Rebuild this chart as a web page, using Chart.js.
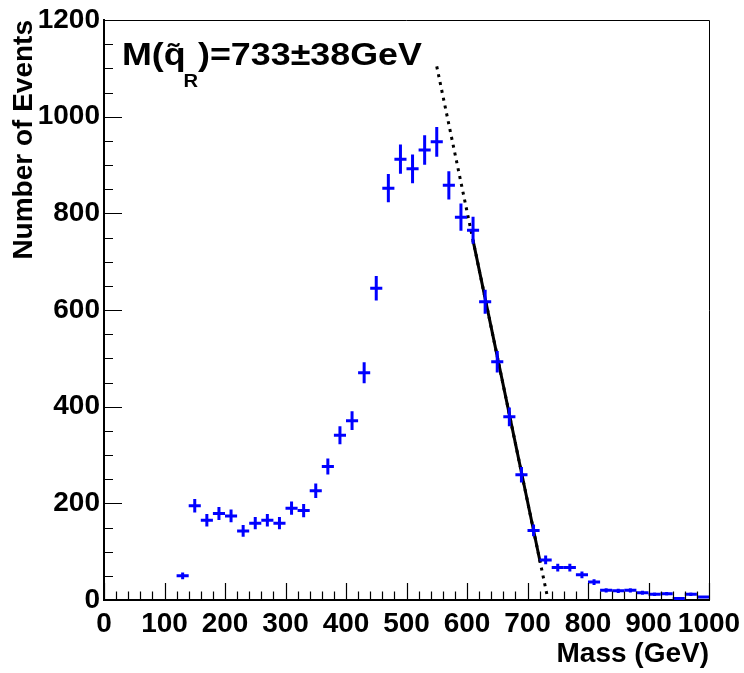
<!DOCTYPE html>
<html>
<head>
<meta charset="utf-8">
<script src="https://cdn.jsdelivr.net/npm/chart.js@4.4.0/dist/chart.umd.min.js"></script>
<style>
  html, body { margin: 0; padding: 0; background: #fff; }
  #wrap { width: 744px; height: 673px; position: relative; }
</style>
</head>
<body>
<div id="wrap"><canvas id="massPlot"></canvas></div>
<script>
// histogram: bin centres (GeV), counts and statistical errors
const massBins = [130, 150, 170, 190, 210, 230, 250, 270, 290, 310,
  330, 350, 370, 390, 410, 430, 450, 470, 490, 510,
  530, 550, 570, 590, 610, 630, 650, 670, 690, 710,
  730, 750, 770, 790, 810, 830, 850, 870, 890, 910,
  930, 950, 970, 990];
const counts = [50, 195, 165, 179, 174, 143, 159, 165, 159, 190,
  185, 226, 276, 341, 371, 470, 645, 852, 912, 892,
  931, 948, 858, 792, 765, 617, 493, 379, 259, 144,
  83, 67, 67, 52, 37, 20, 19, 20, 15, 12,
  13, 3, 12, 6];
const countErrors = [7.1, 14, 12.8, 13.4, 13.2, 12, 12.6, 12.8, 12.6, 13.8,
  13.6, 15, 16.6, 18.5, 19.3, 21.7, 25.4, 29.2, 30.2, 29.9,
  30.5, 30.8, 29.3, 28.1, 27.7, 24.8, 22.2, 19.5, 16.1, 12,
  9.1, 8.2, 8.2, 7.2, 6.1, 4.5, 4.4, 4.5, 3.9, 3.5,
  3.6, 1.7, 3.5, 2.4];
const binHalfWidth = 10;

// linear fit of the falling edge, and its extrapolation
const fitX = [610, 721];
const fitY = [744, 78];
const extX = [550, 734];
const extY = [1104, 0];

const xTicks = [0, 100, 200, 300, 400, 500, 600, 700, 800, 900, 1000];
const yTicks = [0, 200, 400, 600, 800, 1000, 1200];

const FONT = "'Liberation Sans', Arial, Helvetica, sans-serif";
const BLUE = '#0000ff';

// ROOT style error crosses
const errorCrosses = {
  id: 'errorCrosses',
  afterDatasetsDraw(chart) {
    const { ctx, scales: { x, y } } = chart;
    ctx.save();
    ctx.strokeStyle = BLUE;
    ctx.lineWidth = 3;
    ctx.lineCap = 'butt';
    massBins.forEach((m, i) => {
      const px = x.getPixelForValue(m);
      const py = y.getPixelForValue(counts[i]);
      ctx.beginPath();
      ctx.moveTo(x.getPixelForValue(m - binHalfWidth), py);
      ctx.lineTo(x.getPixelForValue(m + binHalfWidth), py);
      ctx.moveTo(px, y.getPixelForValue(counts[i] - countErrors[i]));
      ctx.lineTo(px, y.getPixelForValue(counts[i] + countErrors[i]));
      ctx.stroke();
    });
    ctx.restore();
  }
};

// inner ticks + frame + label text
const rootFrame = {
  id: 'rootFrame',
  afterDraw(chart) {
    const { ctx, chartArea: a, scales: { x, y } } = chart;
    ctx.save();
    ctx.strokeStyle = '#000';
    ctx.lineWidth = 1.2;
    ctx.beginPath();
    for (let v = 0; v <= 1000; v += 20) {
      const px = Math.round(x.getPixelForValue(v)) + 0.5;
      const len = v % 100 === 0 ? 17 : 8.5;
      ctx.moveTo(px, a.bottom);
      ctx.lineTo(px, a.bottom - len);
    }
    for (let v = 0; v <= 1200; v += 50) {
      const py = Math.round(y.getPixelForValue(v)) + 0.5;
      const len = v % 200 === 0 ? 18 : 9;
      ctx.moveTo(a.left, py);
      ctx.lineTo(a.left + len, py);
    }
    ctx.stroke();
    // top and right frame lines
    ctx.lineWidth = 1;
    ctx.beginPath();
    ctx.moveTo(a.left, a.top + 0.5);
    ctx.lineTo(a.right + 0.5, a.top + 0.5);
    ctx.lineTo(a.right + 0.5, a.bottom);
    ctx.stroke();

    // M(q~_R)=733±38GeV
    ctx.fillStyle = '#000';
    ctx.textBaseline = 'alphabetic';
    ctx.textAlign = 'left';
    ctx.translate(a.left + 18, a.top + 45);
    ctx.scale(1.12, 1);
    ctx.font = 'bold 32px ' + FONT;
    ctx.fillText('M(q\u0303', 0, 0);
    const w1 = ctx.measureText('M(q').width;
    ctx.font = 'bold 18px ' + FONT;
    ctx.fillText('R', w1 - 2, 22);
    const w2 = ctx.measureText('R').width;
    ctx.font = 'bold 32px ' + FONT;
    ctx.fillText(')=733\u00b138GeV', w1 + w2 - 2, 0);
    ctx.restore();
  }
};

new Chart(document.getElementById('massPlot'), {
  type: 'scatter',
  data: {
    datasets: [
      {
        type: 'line',
        data: extX.map((v, i) => ({ x: v, y: extY[i] })),
        borderColor: '#000',
        borderWidth: 3,
        borderDash: [3, 5],
        pointRadius: 0,
        fill: false
      },
      {
        type: 'line',
        data: fitX.map((v, i) => ({ x: v, y: fitY[i] })),
        borderColor: '#000',
        borderWidth: 3,
        pointRadius: 0,
        fill: false
      }
    ]
  },
  options: {
    responsive: true,
    maintainAspectRatio: false,
    animation: false,
    layout: { padding: { top: 20, right: 35, left: 0, bottom: 0 } },
    plugins: {
      legend: { display: false },
      tooltip: { enabled: false }
    },
    scales: {
      x: {
        type: 'linear',
        min: 0,
        max: 1000,
        afterFit(s) { s.height = 73; s.paddingLeft = 0; s.paddingRight = 0; },
        afterBuildTicks(s) { s.ticks = xTicks.map(v => ({ value: v })); },
        grid: { display: false, drawTicks: false },
        border: { display: true, color: '#000', width: 2 },
        ticks: {
          padding: 7,
          maxRotation: 0,
          autoSkip: false,
          color: '#000',
          callback: v => String(v),
          font: { family: FONT, size: 28, weight: 'bold' }
        },
        title: {
          display: true,
          text: 'Mass (GeV)',
          align: 'end',
          color: '#000',
          padding: { top: 0, bottom: 2 },
          font: { family: FONT, size: 28, weight: 'bold' }
        }
      },
      y: {
        type: 'linear',
        min: 0,
        max: 1200,
        afterFit(s) { s.width = 104; s.paddingTop = 0; s.paddingBottom = 0; },
        afterBuildTicks(s) { s.ticks = yTicks.map(v => ({ value: v })); },
        grid: { display: false, drawTicks: false },
        border: { display: true, color: '#000', width: 2 },
        ticks: {
          padding: 4,
          autoSkip: false,
          color: '#000',
          callback: v => String(v),
          font: { family: FONT, size: 28, weight: 'bold' }
        },
        title: {
          display: true,
          text: 'Number of Events',
          align: 'end',
          color: '#000',
          padding: { top: 7, bottom: 0 },
          font: { family: FONT, size: 28, weight: 'bold' }
        }
      }
    }
  },
  plugins: [errorCrosses, rootFrame]
});
</script>
</body>
</html>
